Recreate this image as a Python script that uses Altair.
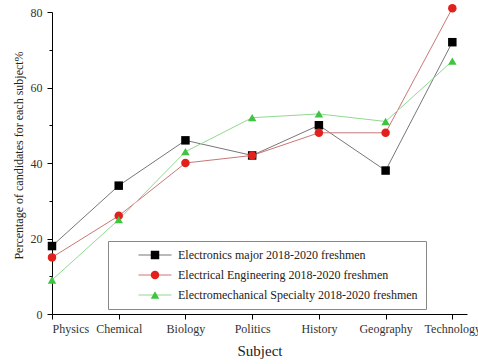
import altair as alt
import pandas as pd

subjects = ["Physics", "Chemical", "Biology", "Politics", "History", "Geography", "Technology"]
series_names = [
    "Electronics major 2018-2020 freshmen",
    "Electrical Engineering 2018-2020 freshmen",
    "Electromechanical Specialty 2018-2020 freshmen",
]
electronics = [18, 34, 46, 42, 50, 38, 72]
electrical = [15, 26, 40, 42, 48, 48, 81]
electromech = [9, 25, 43, 52, 53, 51, 67]
y_ticks = [0, 10, 20, 30, 40, 50, 60, 70, 80]

marker_colors = ["#000000", "#e3211c", "#3fc43f"]
line_colors = ["#777777", "#c87878", "#90da90"]
shapes = ["square", "circle", "triangle-up"]

rows = []
for k, (name, vals) in enumerate(zip(series_names, [electronics, electrical, electromech])):
    for i, (s, v) in enumerate(zip(subjects, vals)):
        rows.append({"series": name, "order": k, "idx": i, "subject": s, "value": v})
df = pd.DataFrame(rows)

FONT = "'Liberation Serif', 'Times New Roman', serif"

common_legend = dict(
    title=None,
    orient="none",
    legendX=56,
    legendY=229,
    direction="vertical",
    labelFont=FONT,
    labelFontSize=12,
    labelLimit=500,
    rowPadding=8,
    padding=8,
    symbolSize=72,
    symbolOpacity=1,
)

legend_lines = alt.Legend(
    **common_legend,
    labelColor="#222222",
    labelOffset=17,
    symbolOffset=33,
    symbolType="M-3.9,0H3.9",
    symbolStrokeWidth=1,
    strokeColor="#888888",
    fillColor="#ffffff",
    zindex=0,
)
legend_marks = alt.Legend(
    **common_legend,
    labelExpr="''",
    labelOffset=17,
    symbolOffset=33,
    symbolStrokeWidth=0,
    zindex=1,
)

label_expr = "[" + ",".join(f"'{s}'" for s in subjects) + "][datum.value]"
x_scale = alt.Scale(domain=[0, 6.22], nice=False, zero=False)

x_enc = alt.X(
    "idx:Q",
    scale=x_scale,
    axis=alt.Axis(
        values=list(range(len(subjects))),
        labelExpr=label_expr,
        title="Subject",
        grid=False,
        tickSize=5,
        tickColor="#000000",
        domainColor="#000000",
        labelFont=FONT,
        labelFontSize=12,
        labelColor="#333333",
        labelPadding=4,
        titleFont=FONT,
        titleFontSize=15,
        titleFontWeight="normal",
        titleColor="#222222",
        titlePadding=9,
    ),
)

y_scale = alt.Scale(domain=[0, 80], nice=False)
y_enc = alt.Y(
    "value:Q",
    scale=y_scale,
    axis=alt.Axis(
        values=y_ticks,
        labelExpr="datum.value % 20 === 0 ? datum.label : ''",
        title="Percentage of candidates for each subject%",
        titleY=143,
        grid=False,
        tickSize={"condition": {"test": "datum.value % 20 === 0", "value": 5}, "value": 3},
        tickColor="#000000",
        domainColor="#000000",
        labelFont=FONT,
        labelFontSize=12,
        labelColor="#333333",
        labelPadding=5,
        titleFont=FONT,
        titleFontSize=12,
        titleFontWeight="normal",
        titleColor="#222222",
        titlePadding=5,
    ),
)

lines = alt.Chart(df).mark_line(strokeWidth=1).encode(
    x=x_enc,
    y=y_enc,
    color=alt.Color(
        "series:N",
        scale=alt.Scale(domain=series_names, range=line_colors),
        legend=legend_lines,
    ),
)
points = alt.Chart(df).mark_point(filled=True, size=72, opacity=1, strokeWidth=0).encode(
    x=x_enc,
    y=y_enc,
    fill=alt.Fill("order:O", scale=alt.Scale(range=marker_colors), legend=legend_marks),
    shape=alt.Shape("order:O", scale=alt.Scale(range=shapes), legend=legend_marks),
)

chart = (
    alt.layer(lines, points)
    .resolve_scale(fill="independent", shape="independent")
    .properties(
        width=415,
        height=302,
        autosize=alt.AutoSizeParams(type="none"),
        padding={"left": 52, "top": 12, "right": 11, "bottom": 50},
        background="#ffffff",
    )
    .configure_view(stroke=None)
    .configure_legend(labelFont=FONT, labelFontSize=12, labelLimit=500)
)

chart.save("out.html", embed_options={"renderer": "svg", "actions": False})
